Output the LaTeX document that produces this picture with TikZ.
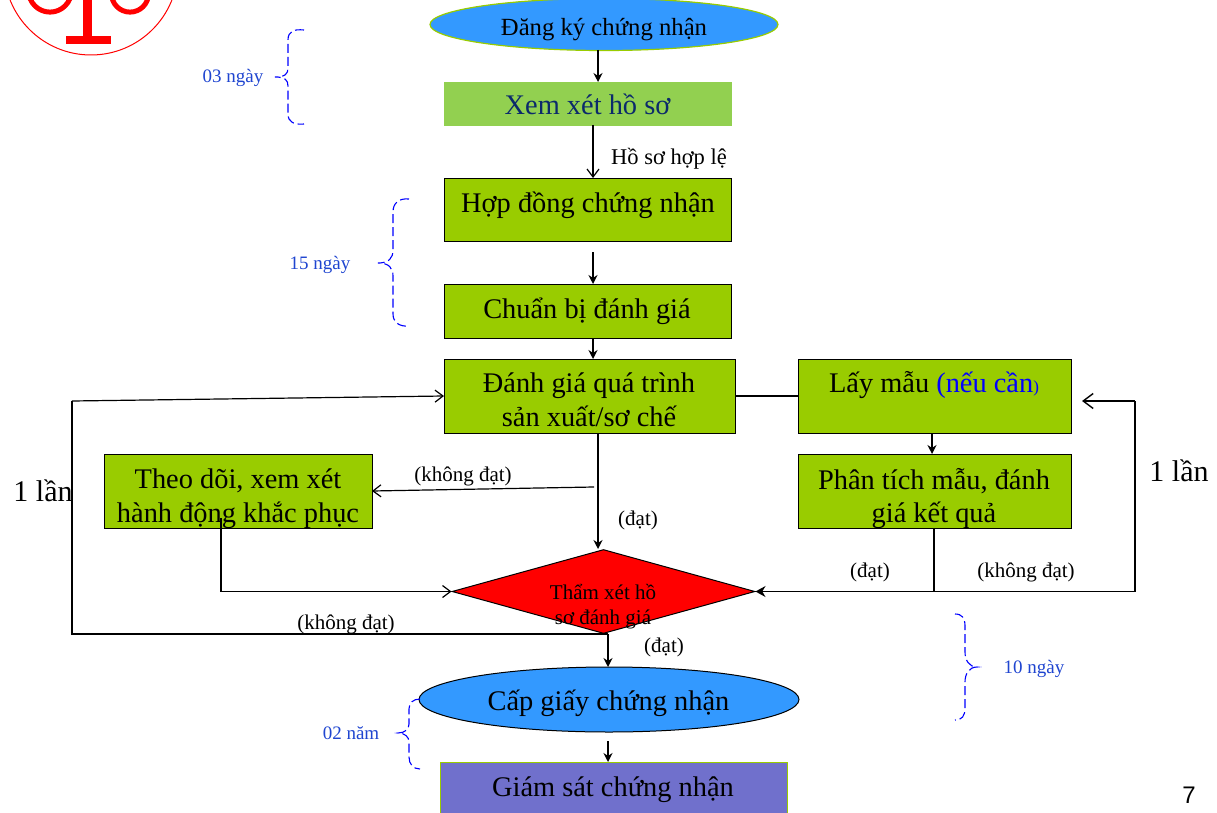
\documentclass[tikz,border=0pt]{standalone}
\usepackage{fontspec}
\setmainfont{Liberation Serif}
\newfontfamily\arialf{Liberation Sans}
\usetikzlibrary{shapes.geometric,arrows.meta}
\definecolor{boxgreen}{HTML}{99CC00}
\definecolor{lightgreen}{HTML}{92D050}
\definecolor{skyb}{HTML}{3399FF}
\definecolor{violetb}{HTML}{7070CC}
\definecolor{labelb}{HTML}{1F45D0}
\definecolor{navyt}{HTML}{0B2A6B}
\tikzset{
  pxfont/.style={font=\fontsize{#1}{#1}\selectfont},
  gbox/.style={draw=black,line width=1.3pt,fill=boxgreen,inner sep=0pt,align=center},
  conn/.style={draw=black,line width=1.4pt},
  fillarrow/.style={conn,-{Stealth[length=9pt,width=9pt]}},
  openarrow/.style={draw=black,line width=1.2pt,-{Straight Barb[length=8pt,width=12pt,line width=1.2pt]}},
  bracep/.style={draw=blue,line width=1.1pt,dash pattern=on 9pt off 4pt},
  lbl/.style={inner sep=0pt,pxfont=21},
  dur/.style={inner sep=0pt,pxfont=19,text=labelb},
  big/.style={inner sep=0pt,pxfont=28.4,align=center},
}
\begin{document}
\begin{tikzpicture}[x=1pt,y=-1pt]
\useasboundingbox (0,0) rectangle (1217,813);
\begin{scope}
\clip (0,0) rectangle (1217,813);
% logo
\draw[red,line width=1pt,fill=white] (91,-32) circle (87);
\draw[red,line width=5pt] (50,-9.3) circle (21.4);
\draw[red,line width=5pt] (130,-6.4) circle (18.5);
\fill[red] (83,-2) rectangle (92,37);
\fill[red] (66,36) rectangle (111,44);
% nodes
\node[ellipse,draw=boxgreen,line width=1.2pt,fill=skyb,minimum width=348pt,minimum height=52pt,inner sep=0pt] (reg) at (604,24.5) {};
\node[inner sep=0pt,pxfont=24.7] (regt) at (604,30) {Đăng ký chứng nhận};
\node[fill=lightgreen,draw=lightgreen,minimum width=287pt,minimum height=43pt,inner sep=0pt] (review) at (587.5,103.5) {};
\node[big,text=navyt] (reviewt) at (587.5,104) {Xem xét hồ sơ};
\node[gbox,minimum width=287pt,minimum height=63pt,anchor=north west] (contract) at (444,178) {};
\node[big] (contractt) at (588,205) {Hợp đồng chứng nhận};
\node[gbox,minimum width=287pt,minimum height=54pt,anchor=north west] (prep) at (444,284) {};
\node[big] (prept) at (587,311) {Chuẩn bị đánh giá};
\node[gbox,minimum width=291pt,minimum height=74pt,anchor=north west] (audit) at (444,359) {};
\node[big] (auditt) at (589,400) {Đánh giá quá trình\\[5.5pt]sản xuất/sơ chế};
\node[gbox,minimum width=273pt,minimum height=74pt,anchor=north west] (sample) at (798,359) {};
\node[big] (samplet) at (934,385) {Lấy mẫu {\color{blue}(nếu cần{\fontsize{17}{17}\selectfont)}}};
\node[gbox,minimum width=273pt,minimum height=74pt,anchor=north west] (analysis) at (798,454) {};
\node[big] (analysist) at (934,498.5) {Phân tích mẫu, đánh\\[5.5pt]giá kết quả};
\node[gbox,minimum width=268pt,minimum height=74pt,anchor=north west] (follow) at (104,454) {};
\node[big] (followt) at (238,498.5) {Theo dõi, xem xét\\[5.5pt]hành động khắc phục};
\node[diamond,draw=black,line width=1pt,fill=red,minimum width=303pt,minimum height=84pt,inner sep=0pt] (dia) at (603.5,591.5) {};
\node[inner sep=0pt,pxfont=21,align=center] (diat) at (603,606.5) {Thẩm xét hồ\\[4pt]sơ đánh giá};
\node[ellipse,draw=black,line width=1pt,fill=skyb,minimum width=380pt,minimum height=65pt,inner sep=0pt] (issue) at (609,699.5) {};
\node[big] (issuet) at (608.5,703) {Cấp giấy chứng nhận};
\node[fill=violetb,draw=boxgreen,line width=1.2pt,minimum width=347pt,minimum height=60pt,inner sep=0pt,anchor=north west] (surv) at (440,762) {};
\node[big] (survt) at (613,790) {Giám sát chứng nhận};
% free coordinates
\coordinate (a1) at (598,50);
\coordinate (a2) at (598,82);
\coordinate (b1) at (593,125);
\coordinate (b2) at (593,178);
\coordinate (c1) at (593,252);
\coordinate (c2) at (593,284);
\coordinate (d1) at (593,338);
\coordinate (d2) at (593,359);
\coordinate (e1) at (932,433);
\coordinate (e2) at (932,454);
\coordinate (f1) at (598,433);
\coordinate (f2) at (598,549);
\coordinate (g1) at (594,487);
\coordinate (g2) at (372,491);
\coordinate (h1) at (221,518);
\coordinate (h2) at (221,591.5);
\coordinate (i1) at (934,528);
\coordinate (i2) at (934,591.5);
\coordinate (j1) at (1135,591.5);
\coordinate (j2) at (1135,401);
\coordinate (j3) at (1082,401);
\coordinate (k1) at (608,634);
\coordinate (k2) at (608,667);
\coordinate (l1) at (72,634);
\coordinate (l2) at (72,401);
\coordinate (l3) at (444,396);
\coordinate (m1) at (608,741);
\coordinate (m2) at (608,762);
\coordinate (n1) at (735,396);
\coordinate (n2) at (798,396);
% connectors
\draw[fillarrow] (a1) -- (a2);
\draw[openarrow] (b1) -- (b2);
\draw[fillarrow] (c1) -- (c2);
\draw[fillarrow] (d1) -- (d2);
\draw[conn] (n1) -- (n2);
\draw[fillarrow] (e1) -- (e2);
\draw[fillarrow] (f1) -- (f2);
\draw[openarrow] (g1) -- (g2);
\draw[openarrow] (h1) -- (h2) -- (dia.west);
\draw[conn] (i1) -- (i2);
\draw[draw=black,line width=1.2pt,-{Stealth[length=10pt,width=11pt]}] (i2) -- (dia.east);
\draw[conn,line width=1.6pt] (i2) -- (j1) -- (j2);
\draw[draw=black,line width=1.4pt,-{Straight Barb[length=10pt,width=15pt,line width=1.4pt]}] (j2) -- (j3);
\draw[fillarrow] (k1) -- (k2);
\draw[conn] (k1) -- (l1) -- (l2);
\draw[openarrow] (l2) -- (l3);
\draw[fillarrow] (m1) -- (m2);
% labels
\node[lbl,pxfont=22.5] (t1) at (669,159) {Hồ sơ hợp lệ};
\node[lbl] (t2) at (463,476) {(không đạt)};
\node[lbl] (t3) at (638,520) {(đạt)};
\node[lbl] (t4) at (870,572) {(đạt)};
\node[lbl] (t5) at (1026,572) {(không đạt)};
\node[lbl] (t6) at (346,624) {(không đạt)};
\node[lbl] (t7) at (664,647) {(đạt)};
\node[inner sep=0pt,pxfont=30] (t8) at (43,491) {1 lần};
\node[inner sep=0pt,pxfont=30] (t9) at (1179,471) {1 lần};
\node[dur] (u1) at (233,78) {03 ngày};
\node[dur] (u2) at (320,265) {15 ngày};
\node[dur] (u3) at (1034,669) {10 ngày};
\node[dur] (u4) at (351,733) {02 năm};
\node[inner sep=0pt,font=\arialf\fontsize{24}{24}\selectfont] (pg) at (1189,795) {7};
% braces
\draw[bracep] (304,30) .. controls (294,29) and (288,31) .. (288,40) -- (288,68) .. controls (288,74) and (285,77) .. (275,77) .. controls (285,77) and (288,80) .. (288,86) -- (288,114) .. controls (288,122) and (294,125) .. (304,124);
\draw[bracep] (409,199) .. controls (399,198) and (393,203) .. (393,212) -- (393,250) .. controls (393,258) and (389,263) .. (378,263) .. controls (389,263) and (393,268) .. (393,276) -- (393,314) .. controls (393,322) and (399,327) .. (409,326);
\draw[bracep] (955,614) .. controls (962,614) and (965,618) .. (965,626) -- (965,652) .. controls (965,660) and (969,667) .. (977,667) .. controls (969,667) and (965,674) .. (965,682) -- (965,708) .. controls (965,716) and (962,720) .. (955,720);
\draw[bracep] (420,699) .. controls (413,699) and (409,703) .. (409,709) -- (409,724) .. controls (409,729) and (405,733) .. (398,733) .. controls (405,733) and (409,737) .. (409,742) -- (409,757) .. controls (409,764) and (413,769) .. (420,769);
\end{scope}
\end{tikzpicture}
\end{document}
